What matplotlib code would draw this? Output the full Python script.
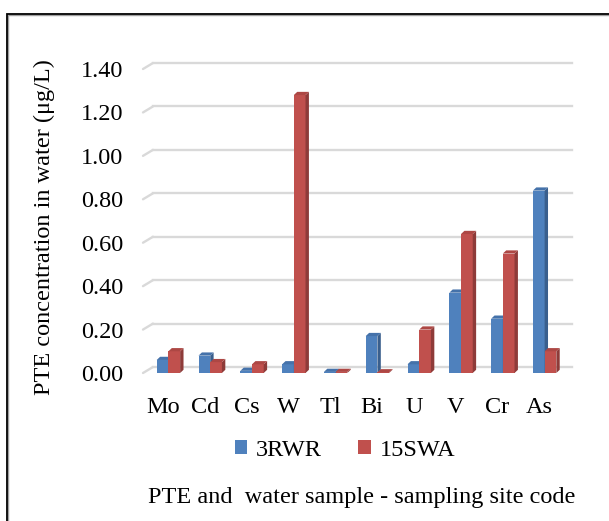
import matplotlib.pyplot as plt
from matplotlib.patches import Polygon, Patch, Rectangle
from matplotlib.transforms import offset_copy

# values (ug/L)
elements = ['Mo', 'Cd', 'Cs', 'W', 'Tl', 'Bi', 'U', 'V', 'Cr', 'As']
rwr_3 = [0.06, 0.08, 0.01, 0.04, 0.005, 0.17, 0.04, 0.37, 0.25, 0.84]
swa_15 = [0.10, 0.05, 0.04, 1.28, 0.005, 0.003, 0.20, 0.64, 0.55, 0.10]
series_names = ['3RWR', '15SWA']
yticks = [0.0, 0.2, 0.4, 0.6, 0.8, 1.0, 1.2, 1.4]

plt.rcParams['font.family'] = ['Liberation Serif', 'DejaVu Serif']
FS = 17.5

W, H = 609, 521
fig = plt.figure(figsize=(W / 100, H / 100), dpi=100)

# outer frame (chart area border)
fig.patches.append(Rectangle((8 / W, -0.05), 1.2, 1 - 15 / H + 0.05, transform=fig.transFigure,
                             fill=False, edgecolor='#a0a0a0', lw=1.0))
fig.patches.append(Rectangle((7 / W, -0.05), 1.2, 1 - 14 / H + 0.05, transform=fig.transFigure,
                             fill=False, edgecolor='black', lw=1.3))

ax_l, ax_r, ax_b, ax_t = 143, 572, 373, 69
ax = fig.add_axes([ax_l / W, (H - ax_b) / H, (ax_r - ax_l) / W, (ax_b - ax_t) / H])
ax.set_xlim(-0.478, 9.785)
ax.set_ylim(0, 1.4)
for s in ax.spines.values():
    s.set_visible(False)

# back-wall gridlines with a small slanted floor edge
depth_x, depth_y = 10, 6
back = offset_copy(ax.get_yaxis_transform(), fig=fig, x=depth_x, y=depth_y, units='dots')
frac = (ax_r - ax_l - depth_x) / (ax_r - ax_l)
for yv in yticks:
    ax.plot([0, frac], [yv, yv], color='#d9d9d9', lw=1.7, transform=back, zorder=0, clip_on=False)
    ax.annotate('', xy=(0, yv), xycoords=back, xytext=(0, yv),
                textcoords=ax.get_yaxis_transform(),
                arrowprops=dict(arrowstyle='-', color='#d9d9d9', lw=1.7, shrinkA=0, shrinkB=0))

# pseudo-3D columns
bw = 0.28
shift = 0.13
dx = 3.4 / 41.8
dy = 3.2 / 217
colors = [('#4f81bd', '#3a5f8d', '#4572aa'), ('#c0504d', '#8e3b39', '#ad4744')]
for k, vals in enumerate([rwr_3, swa_15]):
    front, side, top = colors[k]
    for i, v in enumerate(vals):
        x0 = i + shift - bw + k * bw
        x1 = x0 + bw
        ax.add_patch(Rectangle((x0, 0), bw, v, facecolor=front, edgecolor='none', zorder=2 + k))
        ax.add_patch(Polygon([(x1, 0), (x1 + dx, dy), (x1 + dx, v + dy), (x1, v)],
                             facecolor=side, edgecolor='none', zorder=2 + k, clip_on=False))
        ax.add_patch(Polygon([(x0, v), (x1, v), (x1 + dx, v + dy), (x0 + dx, v + dy)],
                             facecolor=top, edgecolor='none', zorder=2 + k, clip_on=False))

ax.set_yticks(yticks)
ax.set_yticklabels([f'{t:.2f}' for t in yticks], fontsize=FS)
ax.set_xticks(range(len(elements)))
ax.set_xticklabels(elements, fontsize=FS)
ax.tick_params(axis='y', length=0, pad=14)
ax.tick_params(axis='x', length=0, pad=17)

ax.set_ylabel('PTE concentration in water (\u03bcg/L)', fontsize=FS, va='center')
ax.yaxis.set_label_coords((44 - ax_l) / (ax_r - ax_l), (ax_b - 227) / (ax_b - ax_t))

handles = [Patch(facecolor=colors[0][0]), Patch(facecolor=colors[1][0])]
fig.legend(handles, series_names, loc='center', bbox_to_anchor=(345 / W, 1 - 450 / H),
           ncol=2, frameon=False, fontsize=FS, handlelength=0.5, handleheight=0.5,
           handletextpad=0.38, columnspacing=1.5)

fig.text(362 / W, 1 - 497 / H, 'PTE and  water sample - sampling site code',
         ha='center', va='center', fontsize=FS)

fig.savefig('out.png', dpi=100)
